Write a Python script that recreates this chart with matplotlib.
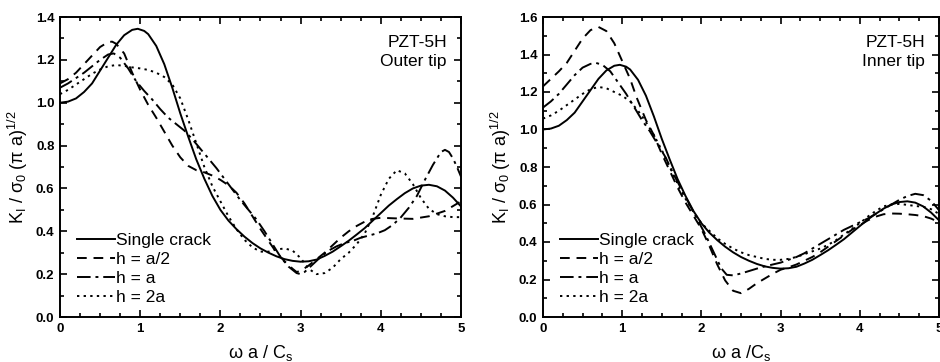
"""
Dynamic stress intensity factor K_I vs. normalised frequency, PZT-5H,
outer and inner crack tips (single crack vs. crack spacing h).
"""
import matplotlib
matplotlib.use("Agg")
import matplotlib.pyplot as plt
from matplotlib.ticker import MultipleLocator

# ── Data ──────────────────────────────────────────────────────────────────────
# Single crack: same curve in both panels
single_x = [0, 0.1, 0.2, 0.3, 0.4, 0.5, 0.6, 0.7, 0.8, 0.9, 0.97, 1.05, 1.1, 1.2, 1.3,
            1.4, 1.5, 1.6, 1.7, 1.8, 1.9, 2.0, 2.1, 2.2, 2.3, 2.4, 2.5, 2.6, 2.7, 2.8,
            2.9, 3.0, 3.1, 3.2, 3.3, 3.4, 3.5, 3.6, 3.7, 3.8, 3.9, 4.0, 4.1, 4.2, 4.3,
            4.4, 4.5, 4.6, 4.7, 4.8, 4.9, 5.0]
single_y = [1.0, 1.005, 1.02, 1.05, 1.09, 1.15, 1.21, 1.27, 1.315, 1.34, 1.345, 1.335, 1.32,
            1.265, 1.18, 1.07, 0.95, 0.84, 0.735, 0.645, 0.565, 0.50, 0.45, 0.41, 0.375,
            0.345, 0.32, 0.30, 0.283, 0.27, 0.262, 0.258, 0.26, 0.268, 0.285, 0.305, 0.33,
            0.356, 0.385, 0.415, 0.45, 0.485, 0.52, 0.55, 0.578, 0.60, 0.613, 0.617, 0.61,
            0.59, 0.557, 0.516]

# Left panel: outer tip
outer_half_x = [0, 0.1, 0.2, 0.3, 0.4, 0.5, 0.6, 0.65, 0.7, 0.8, 0.9, 1.0, 1.1, 1.2, 1.3,
                1.4, 1.5, 1.6, 1.7, 1.8, 1.9, 2.0, 2.1, 2.2, 2.3, 2.4, 2.5, 2.6, 2.7, 2.8,
                2.9, 2.95, 3.0, 3.1, 3.2, 3.3, 3.4, 3.5, 3.6, 3.7, 3.8, 3.9, 4.0, 4.2, 4.4,
                4.6, 4.8, 5.0]
outer_half_y = [1.09, 1.11, 1.14, 1.18, 1.22, 1.26, 1.283, 1.285, 1.275, 1.23, 1.14, 1.06,
                0.99, 0.93, 0.865, 0.80, 0.745, 0.705, 0.685, 0.675, 0.66, 0.64, 0.615, 0.58,
                0.53, 0.47, 0.41, 0.355, 0.30, 0.26, 0.225, 0.21, 0.215, 0.24, 0.27, 0.30,
                0.335, 0.37, 0.40, 0.425, 0.445, 0.458, 0.463, 0.46, 0.458, 0.47, 0.495, 0.54]

outer_one_x = [0, 0.1, 0.2, 0.3, 0.4, 0.5, 0.6, 0.67, 0.75, 0.85, 0.95, 1.05, 1.15, 1.25,
               1.35, 1.45, 1.55, 1.65, 1.75, 1.85, 1.95, 2.05, 2.15, 2.25, 2.35, 2.45, 2.55,
               2.65, 2.75, 2.85, 2.95, 3.0, 3.05, 3.15, 3.25, 3.35, 3.45, 3.55, 3.65, 3.75,
               3.85, 3.95, 4.05, 4.15, 4.25, 4.35, 4.45, 4.55, 4.65, 4.75, 4.8, 4.85, 4.9,
               4.95, 5.0]
outer_one_y = [1.07, 1.09, 1.115, 1.14, 1.17, 1.20, 1.225, 1.23, 1.21, 1.16, 1.10, 1.055,
               1.015, 0.97, 0.93, 0.90, 0.87, 0.83, 0.785, 0.74, 0.695, 0.645, 0.595, 0.545,
               0.50, 0.455, 0.40, 0.34, 0.28, 0.235, 0.205, 0.20, 0.21, 0.245, 0.28, 0.31,
               0.33, 0.345, 0.355, 0.37, 0.38, 0.39, 0.405, 0.43, 0.465, 0.51, 0.565, 0.64,
               0.71, 0.77, 0.78, 0.77, 0.74, 0.70, 0.655]

outer_two_x = [0, 0.1, 0.2, 0.3, 0.4, 0.5, 0.6, 0.7, 0.8, 0.9, 1.0, 1.1, 1.2, 1.3, 1.4,
               1.5, 1.6, 1.7, 1.8, 1.9, 2.0, 2.1, 2.2, 2.3, 2.4, 2.5, 2.6, 2.7, 2.8, 2.9,
               3.0, 3.1, 3.2, 3.3, 3.4, 3.5, 3.6, 3.7, 3.8, 3.9, 4.0, 4.1, 4.2, 4.3, 4.4,
               4.5, 4.6, 4.7, 4.8, 4.9, 5.0]
outer_two_y = [1.04, 1.06, 1.085, 1.11, 1.135, 1.155, 1.17, 1.176, 1.172, 1.165, 1.16, 1.153,
               1.14, 1.12, 1.085, 1.02, 0.92, 0.81, 0.70, 0.61, 0.54, 0.47, 0.41, 0.36,
               0.325, 0.305, 0.305, 0.315, 0.32, 0.31, 0.275, 0.225, 0.20, 0.205, 0.23, 0.27,
               0.30, 0.34, 0.39, 0.47, 0.57, 0.645, 0.685, 0.67, 0.62, 0.555, 0.505, 0.48,
               0.47, 0.466, 0.466]

# Right panel: inner tip
inner_half_x = [0, 0.1, 0.2, 0.3, 0.4, 0.5, 0.6, 0.7, 0.8, 0.9, 1.0, 1.1, 1.18, 1.3, 1.4,
                1.5, 1.6, 1.7, 1.8, 1.9, 2.0, 2.1, 2.2, 2.3, 2.4, 2.5, 2.6, 2.7, 2.8, 2.9,
                3.0, 3.1, 3.2, 3.3, 3.4, 3.5, 3.6, 3.7, 3.8, 3.9, 4.0, 4.1, 4.2, 4.3, 4.4,
                4.5, 4.6, 4.7, 4.8, 4.9, 5.0]
inner_half_y = [1.23, 1.27, 1.31, 1.355, 1.42, 1.485, 1.53, 1.547, 1.525, 1.46, 1.365, 1.27,
                1.173, 1.05, 0.97, 0.87, 0.78, 0.69, 0.61, 0.54, 0.47, 0.38, 0.28, 0.195,
                0.14, 0.127, 0.15, 0.18, 0.205, 0.23, 0.252, 0.265, 0.28, 0.30, 0.32, 0.345,
                0.375, 0.405, 0.435, 0.465, 0.49, 0.515, 0.535, 0.548, 0.552, 0.551, 0.548,
                0.544, 0.538, 0.525, 0.505]

inner_one_x = [0, 0.1, 0.2, 0.3, 0.4, 0.5, 0.6, 0.67, 0.75, 0.85, 0.95, 1.05, 1.15, 1.25,
               1.35, 1.45, 1.55, 1.65, 1.75, 1.85, 1.95, 2.05, 2.15, 2.25, 2.32, 2.4, 2.5,
               2.6, 2.7, 2.8, 2.9, 3.0, 3.1, 3.2, 3.3, 3.4, 3.5, 3.6, 3.7, 3.8, 3.9, 4.0,
               4.1, 4.2, 4.3, 4.4, 4.5, 4.6, 4.7, 4.8, 4.9, 5.0]
inner_one_y = [1.117, 1.15, 1.19, 1.24, 1.29, 1.33, 1.35, 1.355, 1.345, 1.31, 1.25, 1.19,
               1.12, 1.05, 0.99, 0.92, 0.85, 0.76, 0.68, 0.60, 0.52, 0.44, 0.35, 0.26, 0.225,
               0.222, 0.232, 0.245, 0.258, 0.27, 0.28, 0.29, 0.305, 0.32, 0.34, 0.365, 0.39,
               0.415, 0.44, 0.465, 0.485, 0.505, 0.525, 0.55, 0.575, 0.60, 0.625, 0.645,
               0.657, 0.65, 0.62, 0.57]

inner_two_x = [0, 0.1, 0.2, 0.3, 0.4, 0.5, 0.6, 0.7, 0.8, 0.9, 1.0, 1.1, 1.2, 1.3, 1.4,
               1.5, 1.6, 1.7, 1.8, 1.9, 2.0, 2.1, 2.2, 2.3, 2.4, 2.5, 2.6, 2.7, 2.8, 2.9,
               3.0, 3.1, 3.2, 3.3, 3.4, 3.5, 3.6, 3.7, 3.8, 3.9, 4.0, 4.1, 4.2, 4.3, 4.4,
               4.5, 4.6, 4.7, 4.8, 4.9, 5.0]
inner_two_y = [1.058, 1.075, 1.10, 1.13, 1.16, 1.19, 1.215, 1.227, 1.22, 1.20, 1.18, 1.15,
               1.10, 1.04, 0.97, 0.89, 0.80, 0.71, 0.63, 0.56, 0.50, 0.46, 0.42, 0.39,
               0.365, 0.345, 0.33, 0.32, 0.31, 0.305, 0.305, 0.31, 0.32, 0.335, 0.35, 0.365,
               0.385, 0.41, 0.44, 0.47, 0.50, 0.535, 0.565, 0.59, 0.60, 0.603, 0.598, 0.592,
               0.588, 0.575, 0.55]

legend_labels = ["Single crack", "h = a/2", "h = a", "h = 2a"]
line_styles = ["-", (0, (5, 3.5)), (0, (7, 2.5, 1.5, 2.5)), (0, (1.2, 2.2))]

plt.rcParams["font.family"] = ["Liberation Sans", "DejaVu Sans"]
plt.rcParams["mathtext.fontset"] = "custom"
plt.rcParams["mathtext.rm"] = "Liberation Sans"
plt.rcParams["mathtext.it"] = "Liberation Sans:italic"


def style_axes(ax, ymax):
    ax.set_xlim(0, 5)
    ax.set_ylim(0, ymax)
    ax.xaxis.set_major_locator(MultipleLocator(1))
    ax.xaxis.set_minor_locator(MultipleLocator(0.25))
    ax.yaxis.set_major_locator(MultipleLocator(0.2))
    ax.yaxis.set_minor_locator(MultipleLocator(0.1))
    ax.tick_params(which="both", direction="in", top=True, right=True, width=1.2)
    ax.tick_params(which="major", length=5, labelsize=9.5, pad=4)
    ax.tick_params(which="minor", length=3)
    for lab in ax.get_xticklabels() + ax.get_yticklabels():
        lab.set_fontweight("bold")
    for sp in ax.spines.values():
        sp.set_linewidth(1.4)
    ax.set_ylabel(r"K$_\mathrm{I}$ / σ$_\mathrm{0}$ (π a)$^\mathrm{1/2}$", fontsize=13, labelpad=4)


# ── Figure ────────────────────────────────────────────────────────────────────
fig = plt.figure(figsize=(9.4, 3.62), dpi=100)
ax1 = fig.add_axes([60 / 940, 45 / 362, 401 / 940, 300 / 362])
ax2 = fig.add_axes([543 / 940, 45 / 362, 396 / 940, 300 / 362])

panels = [
    (ax1, 1.4, "PZT-5H\nOuter tip", r"ω a / C$_\mathrm{s}$",
     [(single_x, single_y), (outer_half_x, outer_half_y),
      (outer_one_x, outer_one_y), (outer_two_x, outer_two_y)]),
    (ax2, 1.6, "PZT-5H\nInner tip", r"ω a /C$_\mathrm{s}$",
     [(single_x, single_y), (inner_half_x, inner_half_y),
      (inner_one_x, inner_one_y), (inner_two_x, inner_two_y)]),
]

for ax, ymax, note, xlabel, series in panels:
    for (xs, ys), ls, lab in zip(series, line_styles, legend_labels):
        ax.plot(xs, ys, color="black", linestyle=ls, linewidth=1.4, label=lab)
    style_axes(ax, ymax)
    ax.set_xlabel(xlabel, fontsize=13, labelpad=6)
    ax.text(0.965, 0.94, note, transform=ax.transAxes, ha="right", va="top",
            fontsize=12.5, linespacing=1.3)
    ax.legend(loc="lower left", bbox_to_anchor=(0.012, 0.0), frameon=False,
              fontsize=12.5, handlelength=2.2, handletextpad=0.05,
              labelspacing=0.22, borderaxespad=0.3)

fig.savefig("out.png", dpi=100)
